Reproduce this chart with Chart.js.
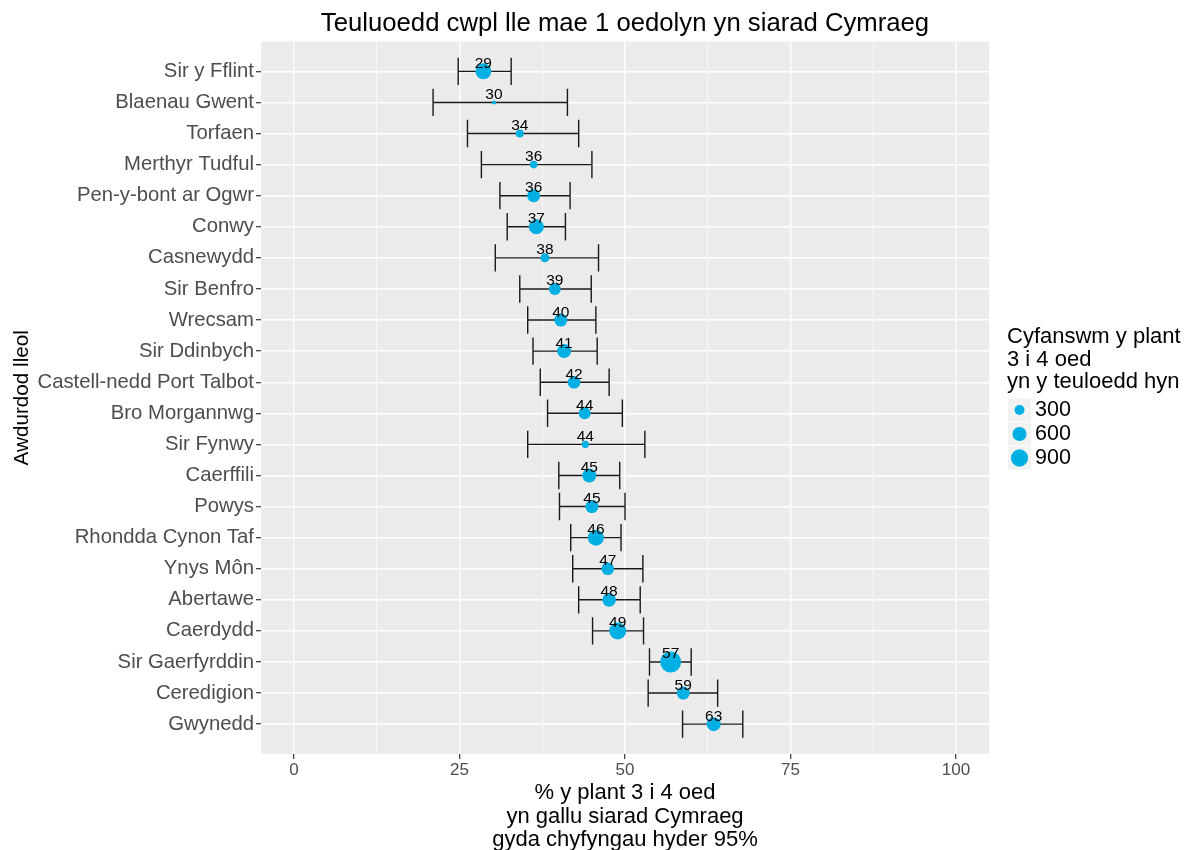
<!DOCTYPE html>
<html>
<head>
<meta charset="utf-8">
<script src="https://cdn.jsdelivr.net/npm/chart.js@4.4.1/dist/chart.umd.min.js"></script>
<style>
html,body{margin:0;padding:0;background:#fff;}
canvas{display:block;}
</style>
</head>
<body>
<canvas id="c" width="1189" height="850"></canvas>
<script>
// ---- data ----
const categories = [
  "Sir y Fflint", "Blaenau Gwent", "Torfaen", "Merthyr Tudful", "Pen-y-bont ar Ogwr",
  "Conwy", "Casnewydd", "Sir Benfro", "Wrecsam", "Sir Ddinbych",
  "Castell-nedd Port Talbot", "Bro Morgannwg", "Sir Fynwy", "Caerffili", "Powys",
  "Rhondda Cynon Taf", "Ynys Môn", "Abertawe", "Caerdydd", "Sir Gaerfyrddin",
  "Ceredigion", "Gwynedd"
];
const estimate = [28.6, 30.2, 34.1, 36.2, 36.2, 36.6, 37.9, 39.4, 40.3, 40.8,
                  42.3, 43.9, 44.0, 44.6, 45.0, 45.6, 47.4, 47.6, 48.9, 56.9, 58.8, 63.4];
const lower    = [24.8, 21.0, 26.2, 28.3, 31.1, 32.2, 30.4, 34.1, 35.3, 36.1,
                  37.2, 38.3, 35.3, 40.0, 40.1, 41.8, 42.1, 43.0, 45.1, 53.7, 53.5, 58.7];
const upper    = [32.8, 41.3, 43.0, 45.0, 41.7, 41.0, 46.0, 44.9, 45.6, 45.8,
                  47.6, 49.6, 53.0, 49.2, 50.0, 49.4, 52.7, 52.3, 52.8, 60.0, 64.0, 67.8];
const children = [770, 50, 190, 175, 510, 680, 245, 430, 510, 590,
                  480, 430, 150, 590, 510, 770, 480, 560, 870, 1330, 510, 590];
const xTickValues = [0, 12.5, 25, 37.5, 50, 62.5, 75, 87.5, 100];
const xTickLabels = ["0", "", "25", "", "50", "", "75", "", "100"];
const legendSizes = [300, 600, 900];
const legendTitle = ["Cyfanswm y plant", "3 i 4 oed", "yn y teuloedd hyn"];
const chartTitle = "Teuluoedd cwpl lle mae 1 oedolyn yn siarad Cymraeg";
const xTitle = ["% y plant 3 i 4 oed", "yn gallu siarad Cymraeg", "gyda chyfyngau hyder 95%"];
const yTitle = "Awdurdod lleol";

// ---- styling ----
const FONT = "'Liberation Sans', Arial, sans-serif";
const POINT = "#00B0E3";
const sizeToRadius = n => 0.288 * Math.sqrt(n);

const panelPlugin = {
  id: 'panel',
  beforeDraw(chart) {
    const a = chart.chartArea, ctx = chart.ctx;
    ctx.save();
    ctx.fillStyle = '#FFFFFF';
    ctx.fillRect(0, 0, chart.width, chart.height);
    ctx.fillStyle = '#EBEBEB';
    ctx.fillRect(a.left, a.top, a.right - a.left, a.bottom - a.top);
    ctx.restore();
  },
  beforeDatasetsDraw(chart) {
    const ctx = chart.ctx, xs = chart.scales.x, ys = chart.scales.y;
    ctx.save();
    ctx.strokeStyle = '#1a1a1a';
    ctx.lineWidth = 1.4;
    for (let i = 0; i < categories.length; i++) {
      const y = ys.getPixelForValue(i);
      const cap = Math.abs(ys.getPixelForValue(i + 0.44) - y);
      const x1 = xs.getPixelForValue(lower[i]);
      const x2 = xs.getPixelForValue(upper[i]);
      ctx.beginPath();
      ctx.moveTo(x1, y); ctx.lineTo(x2, y);
      ctx.moveTo(x1, y - cap); ctx.lineTo(x1, y + cap);
      ctx.moveTo(x2, y - cap); ctx.lineTo(x2, y + cap);
      ctx.stroke();
    }
    ctx.restore();
  },
  afterDatasetsDraw(chart) {
    const ctx = chart.ctx, xs = chart.scales.x, ys = chart.scales.y;
    ctx.save();
    ctx.fillStyle = '#000';
    ctx.font = '15.5px ' + FONT;
    ctx.textAlign = 'center';
    ctx.textBaseline = 'alphabetic';
    for (let i = 0; i < categories.length; i++) {
      const x = xs.getPixelForValue(estimate[i]);
      const y = ys.getPixelForValue(i);
      ctx.fillText(String(Math.round(estimate[i])), x, y - 3.5);
    }
    ctx.restore();
  },
  afterDraw(chart) {
    const ctx = chart.ctx, a = chart.chartArea;
    const cx = (a.left + a.right) / 2;
    ctx.save();
    ctx.fillStyle = '#000';
    // title
    ctx.font = '25.7px ' + FONT;
    ctx.textAlign = 'center';
    ctx.textBaseline = 'alphabetic';
    ctx.fillText(chartTitle, cx, 31);
    // x title
    ctx.font = '22px ' + FONT;
    ctx.textBaseline = 'middle';
    xTitle.forEach((t, k) => ctx.fillText(t, cx, 793 + k * 23.5));
    // y title
    ctx.save();
    ctx.font = '20.7px ' + FONT;
    ctx.translate(22, (a.top + a.bottom) / 2);
    ctx.rotate(-Math.PI / 2);
    ctx.fillText(yTitle, 0, 0);
    ctx.restore();
    // legend
    ctx.textAlign = 'left';
    ctx.font = '22px ' + FONT;
    legendTitle.forEach((t, k) => ctx.fillText(t, 1007, 337 + k * 22.7));
    const keyTop = 398.5, keyH = 24;
    ctx.font = '21.5px ' + FONT;
    legendSizes.forEach((s, k) => {
      const ky = keyTop + k * keyH;
      ctx.fillStyle = '#F2F2F2';
      ctx.fillRect(1008, ky, 23, 23);
      ctx.fillStyle = POINT;
      ctx.beginPath();
      ctx.arc(1019.5, ky + 11.5, sizeToRadius(s), 0, Math.PI * 2);
      ctx.fill();
      ctx.fillStyle = '#000';
      ctx.fillText(String(s), 1035, ky + 12);
    });
    ctx.restore();
  }
};

const points = categories.map((c, i) => ({ x: estimate[i], y: i, r: sizeToRadius(children[i]) }));

new Chart(document.getElementById('c'), {
  type: 'bubble',
  data: {
    datasets: [{
      data: points,
      backgroundColor: POINT,
      borderWidth: 0,
      hoverRadius: 0
    }]
  },
  options: {
    responsive: false,
    animation: false,
    devicePixelRatio: 1,
    layout: { padding: { top: 41.5, right: 200, left: 0, bottom: 0 } },
    plugins: { legend: { display: false }, tooltip: { enabled: false }, title: { display: false } },
    scales: {
      x: {
        type: 'linear', min: -5, max: 105,
        afterBuildTicks: s => { s.ticks = xTickValues.map(v => ({ value: v })); },
        afterFit: s => { s.height = 96; },
        border: { display: false },
        grid: {
          color: '#FFFFFF',
          lineWidth: c => (c.tick && c.tick.value % 25 === 0) ? 1.4 : 0.7,
          drawTicks: true, tickLength: 5, tickWidth: 1.2,
          tickColor: c => (c.tick && c.tick.value % 25 === 0) ? '#333333' : 'rgba(0,0,0,0)'
        },
        ticks: {
          autoSkip: false, maxRotation: 0, padding: 1,
          color: '#4D4D4D', font: { size: 17, family: FONT },
          callback: (v) => xTickLabels[xTickValues.indexOf(v)] ?? ''
        }
      },
      y: {
        type: 'linear', reverse: true, min: -0.96, max: 21.96,
        afterBuildTicks: s => { s.ticks = categories.map((_, i) => ({ value: i })); },
        afterFit: s => { s.width = 261; },
        border: { display: false },
        grid: {
          color: '#FFFFFF', lineWidth: 1.4,
          drawTicks: true, tickLength: 5, tickWidth: 1.2, tickColor: '#333333'
        },
        ticks: {
          autoSkip: false, padding: 2,
          color: '#4D4D4D', font: { size: 20.3, family: FONT },
          callback: v => categories[v]
        }
      }
    }
  },
  plugins: [panelPlugin]
});
</script>
</body>
</html>
